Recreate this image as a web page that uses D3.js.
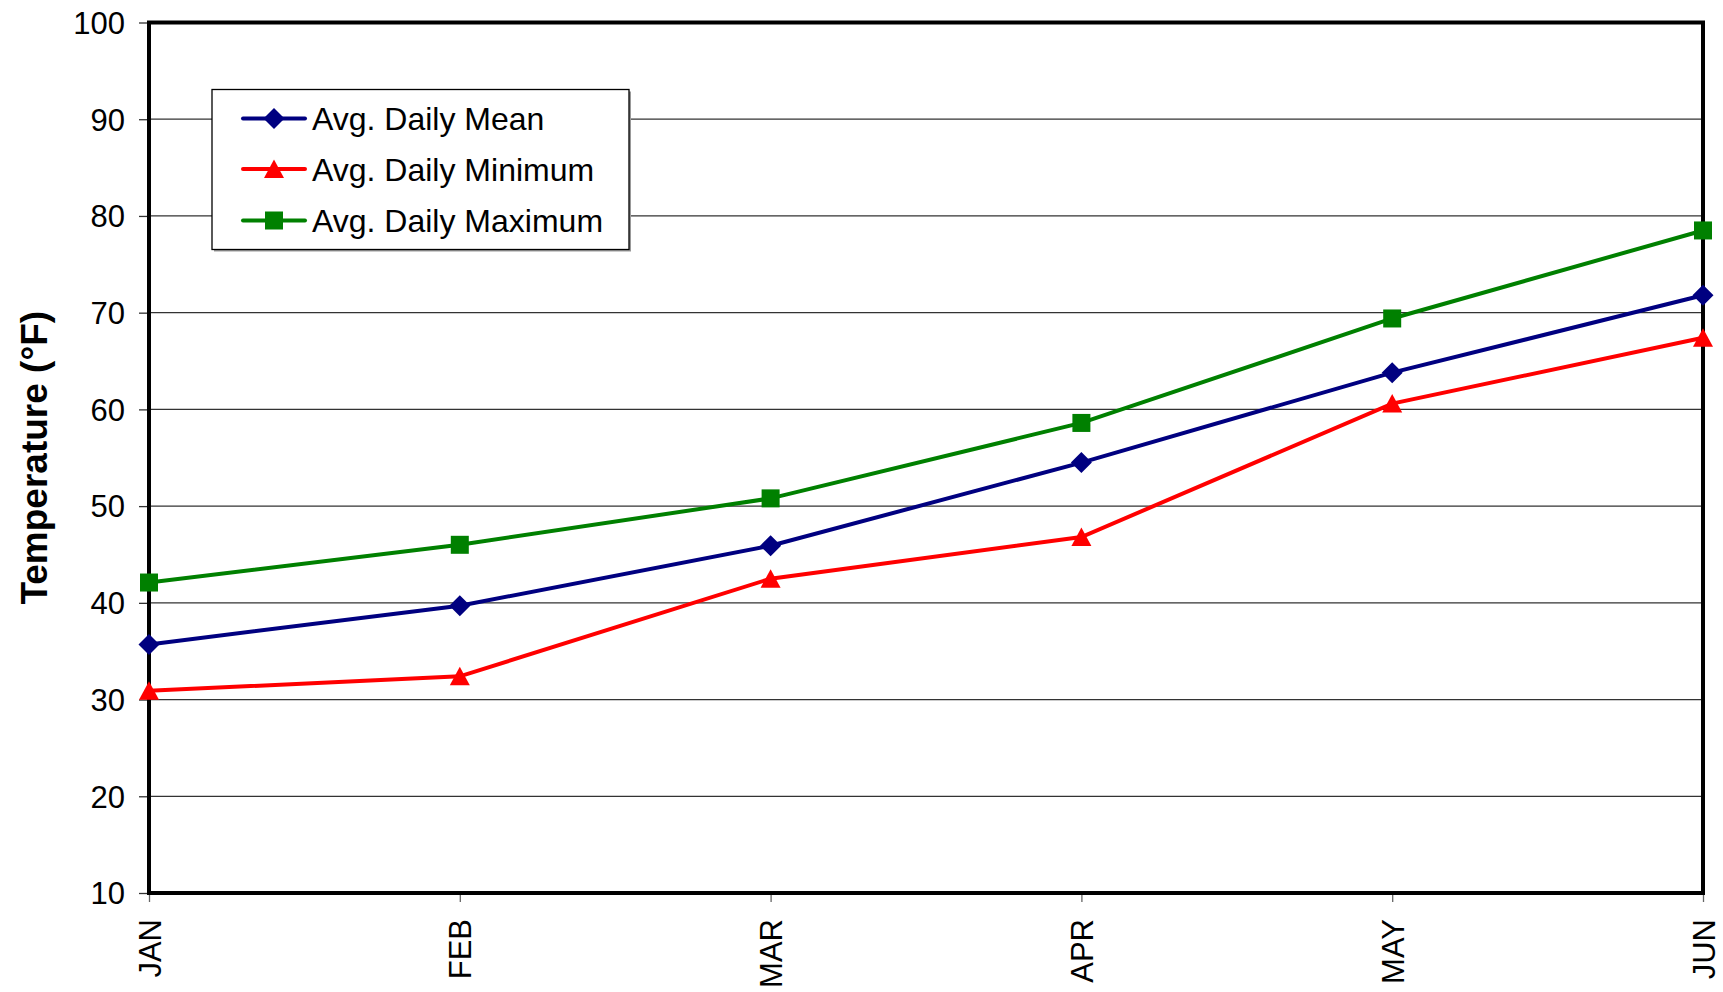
<!DOCTYPE html>
<html>
<head>
  <title>Temperature</title>
  <script src="https://d3js.org/d3.v7.min.js"></script>
  <style>
    body { margin: 0; background: #fff; }
    svg text { font-family: Arial, "Liberation Sans", sans-serif; fill: #000; }
  </style>
</head>
<body>
  <svg id="chart" width="1723" height="992"></svg>
  <script>
    // data
    const months = ["JAN", "FEB", "MAR", "APR", "MAY", "JUN"];
    const meanTemps = [35.7, 39.7, 45.9, 54.5, 63.8, 71.8];
    const minTemps = [30.9, 32.4, 42.5, 46.8, 60.6, 67.4];
    const maxTemps = [42.1, 46.0, 50.8, 58.6, 69.4, 78.5];
    const yTicks = [10, 20, 30, 40, 50, 60, 70, 80, 90, 100];

    const series = [
      { name: "Avg. Daily Mean", values: meanTemps, color: "#000080", shape: "diamond" },
      { name: "Avg. Daily Minimum", values: minTemps, color: "#FF0000", shape: "triangle" },
      { name: "Avg. Daily Maximum", values: maxTemps, color: "#008000", shape: "square" }
    ];

    const svg = d3.select("#chart");
    const margin = { top: 22.5, right: 20, bottom: 99, left: 149 };
    const width = 1723 - margin.left - margin.right;
    const height = 992 - margin.top - margin.bottom;

    const g = svg.append("g").attr("transform", `translate(${margin.left},${margin.top})`);

    const x = d3.scalePoint().domain(months).range([0, width]);
    const y = d3.scaleLinear().domain([10, 100]).range([height, 0]);

    // gridlines
    g.selectAll(".grid")
      .data(yTicks.slice(1, -1))
      .enter().append("line")
      .attr("x1", 0).attr("x2", width)
      .attr("y1", d => y(d)).attr("y2", d => y(d))
      .attr("stroke", "#333").attr("stroke-width", 1.3);

    // y axis
    const yAxis = g.append("g")
      .call(d3.axisLeft(y).tickValues(yTicks).tickSize(10).tickPadding(14));
    yAxis.select(".domain").remove();
    yAxis.selectAll(".tick line").attr("stroke", "#333").attr("stroke-width", 1.3);
    yAxis.selectAll(".tick text").style("font-size", "31px").attr("dy", "0.35em");

    // x axis
    const xAxis = g.append("g")
      .attr("transform", `translate(0,${height})`)
      .call(d3.axisBottom(x).tickSize(9).tickPadding(0));
    xAxis.select(".domain").remove();
    xAxis.selectAll(".tick line").attr("stroke", "#666").attr("stroke-width", 1.3);
    xAxis.selectAll(".tick text")
      .style("font-size", "31px")
      .attr("text-anchor", "end")
      .attr("transform", "rotate(-90)")
      .attr("x", -26)
      .attr("y", 0)
      .attr("dy", "0.36em");

    // frame
    g.append("rect")
      .attr("width", width).attr("height", height)
      .attr("fill", "none").attr("stroke", "#000").attr("stroke-width", 4);

    // y title
    svg.append("text")
      .attr("transform", `translate(47,${margin.top + height / 2}) rotate(-90)`)
      .attr("text-anchor", "middle")
      .style("font-size", "37px")
      .style("font-weight", "bold")
      .text("Temperature (°F)");

    // marker shapes
    function marker(sel, shape, color) {
      if (shape === "diamond") {
        sel.append("path").attr("d", "M0,-10.5L10.5,0L0,10.5L-10.5,0Z").attr("fill", color);
      } else if (shape === "triangle") {
        sel.append("path").attr("d", "M0,-9.5L10,9L-10,9Z").attr("fill", color);
      } else {
        sel.append("rect").attr("x", -9).attr("y", -9).attr("width", 18).attr("height", 18).attr("fill", color);
      }
    }

    const line = d3.line().x((d, i) => x(months[i])).y(d => y(d));

    series.forEach(s => {
      g.append("path")
        .datum(s.values)
        .attr("d", line)
        .attr("fill", "none")
        .attr("stroke", s.color)
        .attr("stroke-width", 4);

      s.values.forEach((v, i) => {
        const m = g.append("g").attr("transform", `translate(${x(months[i])},${y(v)})`);
        marker(m, s.shape, s.color);
      });
    });

    // legend
    const legend = svg.append("g").attr("transform", "translate(212,89.5)");
    legend.append("rect")
      .attr("x", 2).attr("y", 2)
      .attr("width", 417).attr("height", 160)
      .attr("fill", "#999");
    legend.append("rect")
      .attr("width", 417).attr("height", 160)
      .attr("fill", "#fff").attr("stroke", "#000").attr("stroke-width", 1.3);

    const rowY = [29, 79.5, 131];
    series.forEach((s, i) => {
      const row = legend.append("g").attr("transform", `translate(0,${rowY[i]})`);
      row.append("line")
        .attr("x1", 31).attr("x2", 93)
        .attr("stroke", s.color).attr("stroke-width", 4).attr("stroke-linecap", "round");
      const m = row.append("g").attr("transform", "translate(62,0)");
      marker(m, s.shape, s.color);
      row.append("text")
        .attr("x", 100).attr("dy", "0.36em")
        .style("font-size", "32px")
        .text(s.name);
    });
  </script>
</body>
</html>
